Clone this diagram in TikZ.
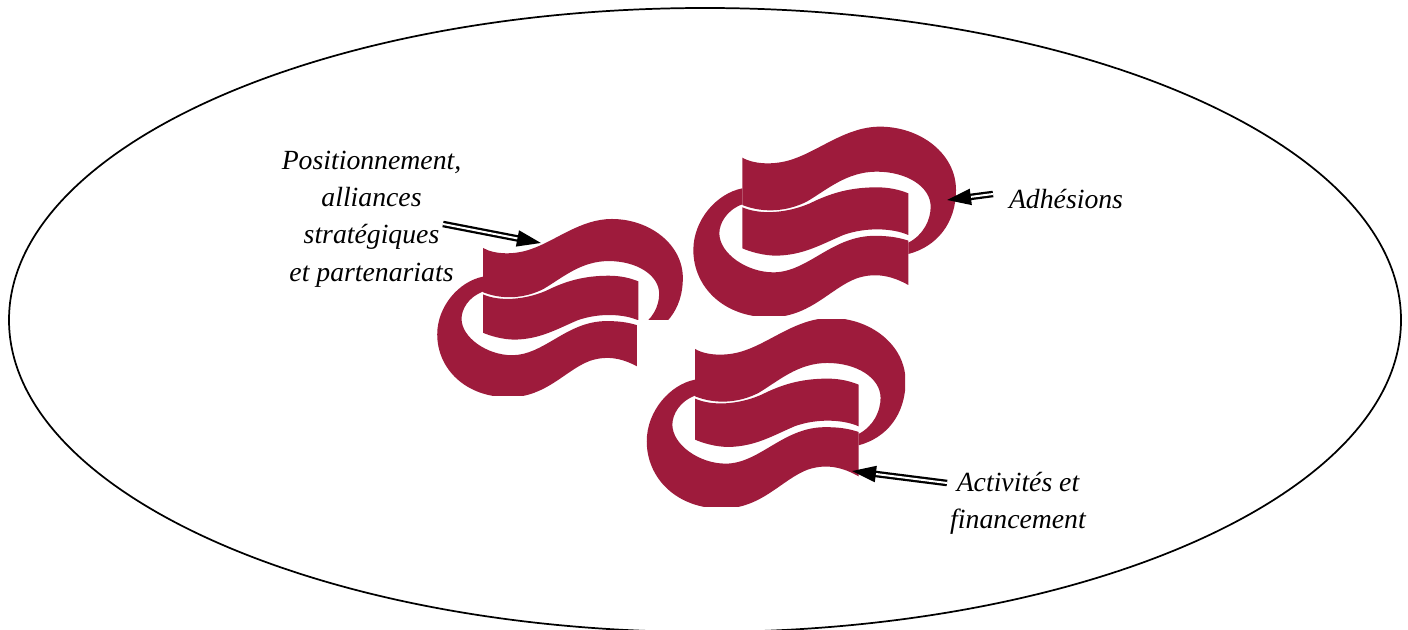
\documentclass[tikz,border=0pt]{standalone}
\usepackage{fontspec}
\setmainfont{Liberation Serif}
\usetikzlibrary{arrows.meta}
\definecolor{logored}{RGB}{158,27,60}
\newcommand{\logoshape}{%
  \begin{scope}
  \clip (0,0) rectangle (828,616);
  \fill[logored] (187,143) .. controls (225,165) and (290,165) .. (340,147)
    .. controls (420,120) and (500,50) .. (600,50)
    .. controls (720,50) and (828,130) .. (828,240)
    .. controls (828,340) and (770,410) .. (685,432)
    -- (685,398) .. controls (730,375) and (752,330) .. (752,290)
    .. controls (752,230) and (680,185) .. (590,185)
    .. controls (500,185) and (440,240) .. (380,275)
    .. controls (320,305) and (250,310) .. (187,285) -- cycle;
  \fill[logored] (685,525) .. controls (640,500) and (590,485) .. (530,505)
    .. controls (450,535) and (390,622) .. (270,622)
    .. controls (130,622) and (40,530) .. (40,420)
    .. controls (40,330) and (110,250) .. (187,235)
    -- (187,283) .. controls (140,300) and (118,340) .. (118,370)
    .. controls (118,430) and (200,487) .. (280,487)
    .. controls (380,487) and (450,385) .. (570,378)
    .. controls (620,376) and (655,382) .. (685,392) -- cycle;
  \fill[logored] (187,292) .. controls (240,315) and (320,310) .. (390,280)
    .. controls (450,250) and (510,232) .. (590,232)
    .. controls (630,232) and (660,240) .. (685,250)
    -- (685,375) .. controls (640,355) and (560,350) .. (490,375)
    .. controls (420,405) and (370,435) .. (290,437)
    .. controls (250,437) and (210,425) .. (187,415) -- cycle;
  \end{scope}}
\tikzset{
  x=0.75pt,y=-0.75pt,
  caption/.style={font=\fontsize{20.8}{28}\selectfont\itshape,align=center,inner sep=0pt,text=black},
  doublearrow/.style={double=white,double distance=1.5pt,line width=1.7pt,draw=black,
    -{Triangle[length=18pt,width=12pt,sep=0pt]}}
}
\begin{document}
\begin{tikzpicture}
\useasboundingbox (0,0) rectangle (1408,630);
\begin{scope}
\clip (0,0) rectangle (1408,630);
\draw[line width=1.3pt] (705,320) ellipse [x radius=696,y radius=312];
\end{scope}
% left logo
\begin{scope}[shift={(424.75,203.4)},x=0.2338pt,y=-0.2338pt]
\logoshape
\end{scope}
% top logo
\begin{scope}[shift={(680,110)},x=0.25pt,y=-0.25pt]
\logoshape
\end{scope}
% bottom logo with its white ground
\fill[white] (637,320) rectangle (905,507);
\begin{scope}
\clip (637,320) rectangle (905,507);
\begin{scope}[shift={(633.6,301.3)},x=0.2463pt,y=-0.25pt]
\logoshape
\end{scope}
\end{scope}
\node[caption] (pos) at (371.5,219) {Positionnement,\\alliances\\stratégiques\\et partenariats};
\node[caption] (adh) at (1066,199) {Adhésions};
\node[caption] (act) at (1018,503) {Activités et\\financement};
\coordinate (t1) at (443,224); \coordinate (h1) at (541,243);
\coordinate (t2) at (993,194); \coordinate (h2) at (947,200);
\coordinate (t3) at (947,483); \coordinate (h3) at (852,471);
\draw[doublearrow] (t1) -- (h1);
\draw[doublearrow] (t2) -- (h2);
\draw[doublearrow] (t3) -- (h3);
\end{tikzpicture}
\end{document}
